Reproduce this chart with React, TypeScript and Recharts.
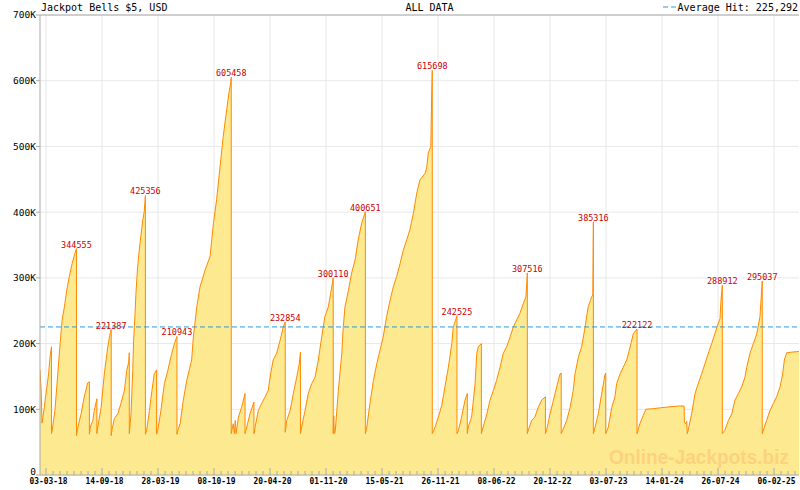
import React from 'react';
import { AreaChart, Area, XAxis, YAxis, CartesianGrid, ReferenceLine, ReferenceDot } from 'recharts';

// day offsets from 03-03-18, jackpot value in USD
const history: [number, number][] = [
  [-21, 160000], [-17, 128000], [-14, 79000], [-6, 103000], [0, 124000], [9, 154000], [14, 180000], [19, 195000], [19, 63000],
  [23, 73000], [31, 98000], [41, 154000], [49, 200000], [56, 236000], [64, 256000], [72, 281000], [81, 302000], [91, 322000], [99, 335000], [106, 344555], [106, 60000],
  [110, 71000], [122, 93000], [133, 119000], [145, 140000], [151, 142000], [151, 62000],
  [154, 73000], [163, 83000], [168, 98000], [177, 116000], [177, 63000],
  [180, 73000], [192, 103000], [203, 154000], [215, 195000], [223, 215000], [227, 221387], [227, 60000],
  [230, 70000], [238, 86000], [250, 93000], [261, 109000], [273, 129000], [281, 159000], [288, 172000], [290, 186000], [290, 63000],
  [296, 93000], [302, 159000], [305, 205000], [310, 246000], [313, 276000], [319, 317000], [327, 352000], [337, 388000], [342, 401000], [346, 425356], [346, 62000],
  [351, 70000], [360, 98000], [369, 129000], [377, 154000], [385, 160000], [385, 62000],
  [389, 68000], [400, 98000], [412, 139000], [424, 159000], [435, 180000], [447, 200000], [456, 210943], [456, 62000],
  [459, 68000], [467, 78000], [478, 114000], [490, 144000], [507, 175000], [513, 210000], [525, 256000], [536, 286000], [554, 312000], [571, 332000], [583, 383000], [594, 419000], [606, 469000], [617, 515000], [629, 556000], [638, 584000], [643, 597000], [645, 605458], [645, 63000],
  [647, 68000], [652, 78000], [656, 63000], [659, 83000], [662, 63000], [670, 88000], [681, 103000], [693, 124000], [693, 63000],
  [699, 73000], [710, 93000], [724, 111000], [724, 63000],
  [728, 73000], [739, 98000], [751, 109000], [763, 119000], [774, 129000], [782, 154000], [791, 175000], [803, 185000], [815, 205000], [826, 225000], [833, 232854], [833, 65000],
  [838, 83000], [850, 98000], [861, 124000], [873, 149000], [882, 170000], [886, 187000], [886, 63000],
  [890, 73000], [902, 98000], [913, 124000], [925, 139000], [937, 149000], [948, 175000], [960, 210000], [971, 241000], [983, 256000], [991, 276000], [1000, 300110], [1000, 63000],
  [1002, 90000], [1004, 63000], [1007, 66000], [1018, 129000], [1030, 185000], [1035, 225000], [1041, 256000], [1053, 281000], [1064, 307000], [1076, 327000], [1087, 358000], [1099, 383000], [1112, 400651], [1112, 63000],
  [1117, 73000], [1128, 109000], [1140, 144000], [1152, 170000], [1163, 190000], [1174, 210000], [1186, 241000], [1198, 266000], [1209, 286000], [1221, 302000], [1233, 322000], [1244, 342000], [1256, 358000], [1267, 373000], [1279, 398000], [1291, 429000], [1302, 449000], [1320, 459000], [1326, 469000], [1331, 490000], [1340, 500000], [1343, 581000], [1345, 615698], [1345, 63000],
  [1355, 73000], [1366, 88000], [1378, 106000], [1389, 134000], [1401, 164000], [1413, 200000], [1418, 225000], [1431, 242525], [1431, 63000],
  [1436, 68000], [1447, 88000], [1459, 114000], [1467, 124000], [1467, 63000],
  [1470, 73000], [1482, 88000], [1494, 139000], [1500, 185000], [1505, 195000], [1516, 200000], [1516, 63000],
  [1519, 68000], [1535, 93000], [1546, 114000], [1558, 129000], [1569, 144000], [1581, 164000], [1592, 185000], [1604, 195000], [1616, 210000], [1627, 225000], [1639, 236000], [1650, 246000], [1662, 261000], [1671, 271000], [1674, 292000], [1676, 307516], [1676, 63000],
  [1679, 68000], [1691, 83000], [1702, 88000], [1714, 103000], [1726, 114000], [1739, 119000], [1739, 63000],
  [1743, 68000], [1755, 93000], [1767, 114000], [1778, 134000], [1790, 154000], [1794, 155000], [1794, 63000],
  [1799, 68000], [1813, 83000], [1825, 103000], [1836, 129000], [1842, 154000], [1854, 180000], [1865, 195000], [1877, 225000], [1888, 256000], [1900, 271000], [1904, 274000], [1906, 385316], [1906, 63000],
  [1912, 73000], [1923, 93000], [1935, 124000], [1946, 152000], [1949, 155000], [1949, 63000],
  [1958, 73000], [1970, 103000], [1981, 119000], [1987, 139000], [1999, 154000], [2010, 164000], [2022, 175000], [2034, 195000], [2045, 215000], [2058, 222122], [2058, 63000],
  [2068, 78000], [2080, 91000], [2089, 100000], [2115, 101000], [2155, 103000], [2202, 105000], [2222, 105000], [2223, 80000], [2228, 78000], [2231, 82000], [2233, 63000],
  [2236, 68000], [2248, 93000], [2260, 124000], [2271, 139000], [2283, 154000], [2295, 170000], [2306, 185000], [2318, 200000], [2329, 215000], [2341, 231000], [2347, 238000], [2350, 264000], [2355, 288912], [2355, 63000],
  [2364, 68000], [2376, 83000], [2388, 93000], [2399, 114000], [2411, 124000], [2422, 134000], [2434, 149000], [2440, 164000], [2451, 185000], [2463, 200000], [2475, 215000], [2486, 241000], [2492, 281000], [2494, 295037], [2494, 63000],
  [2509, 83000], [2521, 98000], [2533, 109000], [2544, 119000], [2556, 134000], [2565, 154000], [2571, 175000], [2579, 186000], [2597, 187000], [2622, 188000],
];

// labelled hits
const peaks: [number, number][] = [
  [106, 344555], [227, 221387], [346, 425356], [456, 210943], [645, 605458], [833, 232854], [1000, 300110], [1112, 400651],
  [1345, 615698], [1431, 242525], [1676, 307516], [1906, 385316], [2058, 222122], [2355, 288912], [2494, 295037],
];

const dateLabels = [
  '03-03-18', '14-09-18', '28-03-19', '08-10-19', '20-04-20', '01-11-20', '15-05-21',
  '26-11-21', '08-06-22', '20-12-22', '03-07-23', '14-01-24', '26-07-24', '06-02-25',
];
const yTicks = [0, 100000, 200000, 300000, 400000, 500000, 600000, 700000];
const averageHit = 225292;

const STEP = 195; // days between labelled ticks
const MINOR = 8;
const majorDays = dateLabels.map((_, i) => i * STEP);
const tickDays: number[] = [];
for (let k = 0; k * STEP / MINOR <= 2622; k++) tickDays.push(k * STEP / MINOR);

const data = history.map(([d, v]) => ({ d, v }));
const MONO = '"DejaVu Sans Mono", monospace';

function DateTick(props: any) {
  const { x, y, payload } = props;
  const k = Math.round((payload.value * MINOR) / STEP);
  const major = k % MINOR === 0;
  return (
    <g>
      <line x1={x} x2={x} y1={y} y2={y - (major ? 7 : 4)} stroke="#aaa" />
      {major && (
        <text x={x + 2.5} y={y + 9} textAnchor="middle" fontSize={8} fontWeight="bold" fontFamily={MONO} fill="#000"
          textLength={38} lengthAdjust="spacingAndGlyphs">
          {dateLabels[k / MINOR]}
        </text>
      )}
    </g>
  );
}

function ValueTick(props: any) {
  const { x, y, payload } = props;
  const v = payload.value as number;
  return (
    <text x={x} y={v === 0 ? y - 3 : y} dy="0.355em" textAnchor="end" fontSize={9.5} fontFamily={MONO} fill="#000">
      {v === 0 ? '0' : `${v / 1000}K`}
    </text>
  );
}

export default function App() {
  return (
    <div style={{ position: 'relative', width: 800, height: 490, background: '#fff' }}>
      <style>{'body{margin:0}'}</style>
      <AreaChart width={800} height={490} data={data} margin={{ top: 15, right: 1, bottom: 0, left: 0 }}>
        <CartesianGrid stroke="#e8e8e8" verticalValues={majorDays} horizontalValues={yTicks} />
        <XAxis
          type="number" dataKey="d" domain={[-21, 2622]} ticks={tickDays} interval={0}
          tick={<DateTick />} tickLine={false} tickSize={0} tickMargin={0}
          axisLine={{ stroke: '#aaa' }} height={15} allowDataOverflow
        />
        <YAxis
          type="number" domain={[0, 700000]} ticks={yTicks} interval={0} width={40}
          tick={<ValueTick />}
          tickSize={4} tickMargin={0} axisLine={{ stroke: '#aaa' }} tickLine={{ stroke: '#aaa' }}
        />
        <Area
          type="linear" dataKey="v" stroke="#ff8a00" strokeWidth={1} fill="#fde98f" fillOpacity={1}
          dot={false} activeDot={false} isAnimationActive={false}
        />
        <ReferenceLine y={700000} stroke="#aaa" />
        <ReferenceLine y={averageHit} stroke="#2b9bd8" strokeDasharray="5 3" />
        {peaks.map(([d, v]) => (
          <ReferenceDot
            key={d} x={d} y={v} r={0} stroke="none" fill="none"
            label={{ value: String(v), position: 'top', offset: 1, fill: '#cc0000', fontSize: 8.5, fontFamily: MONO }}
          />
        ))}
      </AreaChart>
      <svg width={800} height={490} style={{ position: 'absolute', left: 0, top: 0, pointerEvents: 'none' }}>
        <text x={41} y={10.5} fontSize={10} fontFamily={MONO} fill="#000">Jackpot Bells $5, USD</text>
        <text x={429.5} y={10.5} fontSize={10} fontFamily={MONO} fill="#000" textAnchor="middle">ALL DATA</text>
        <line x1={663} x2={677} y1={7} y2={7} stroke="#2b9bd8" strokeDasharray="5 3" />
        <text x={798} y={10.5} fontSize={10} fontFamily={MONO} fill="#000" textAnchor="end">
          {`Average Hit: ${averageHit.toLocaleString('en-US')}`}
        </text>
        <text x={609} y={464} fontSize={20} fontWeight="bold" fontFamily='"Liberation Sans", Arial, sans-serif'
          fill="#fdd27e" textLength={180} lengthAdjust="spacingAndGlyphs">
          Online-Jackpots.biz
        </text>
      </svg>
    </div>
  );
}
